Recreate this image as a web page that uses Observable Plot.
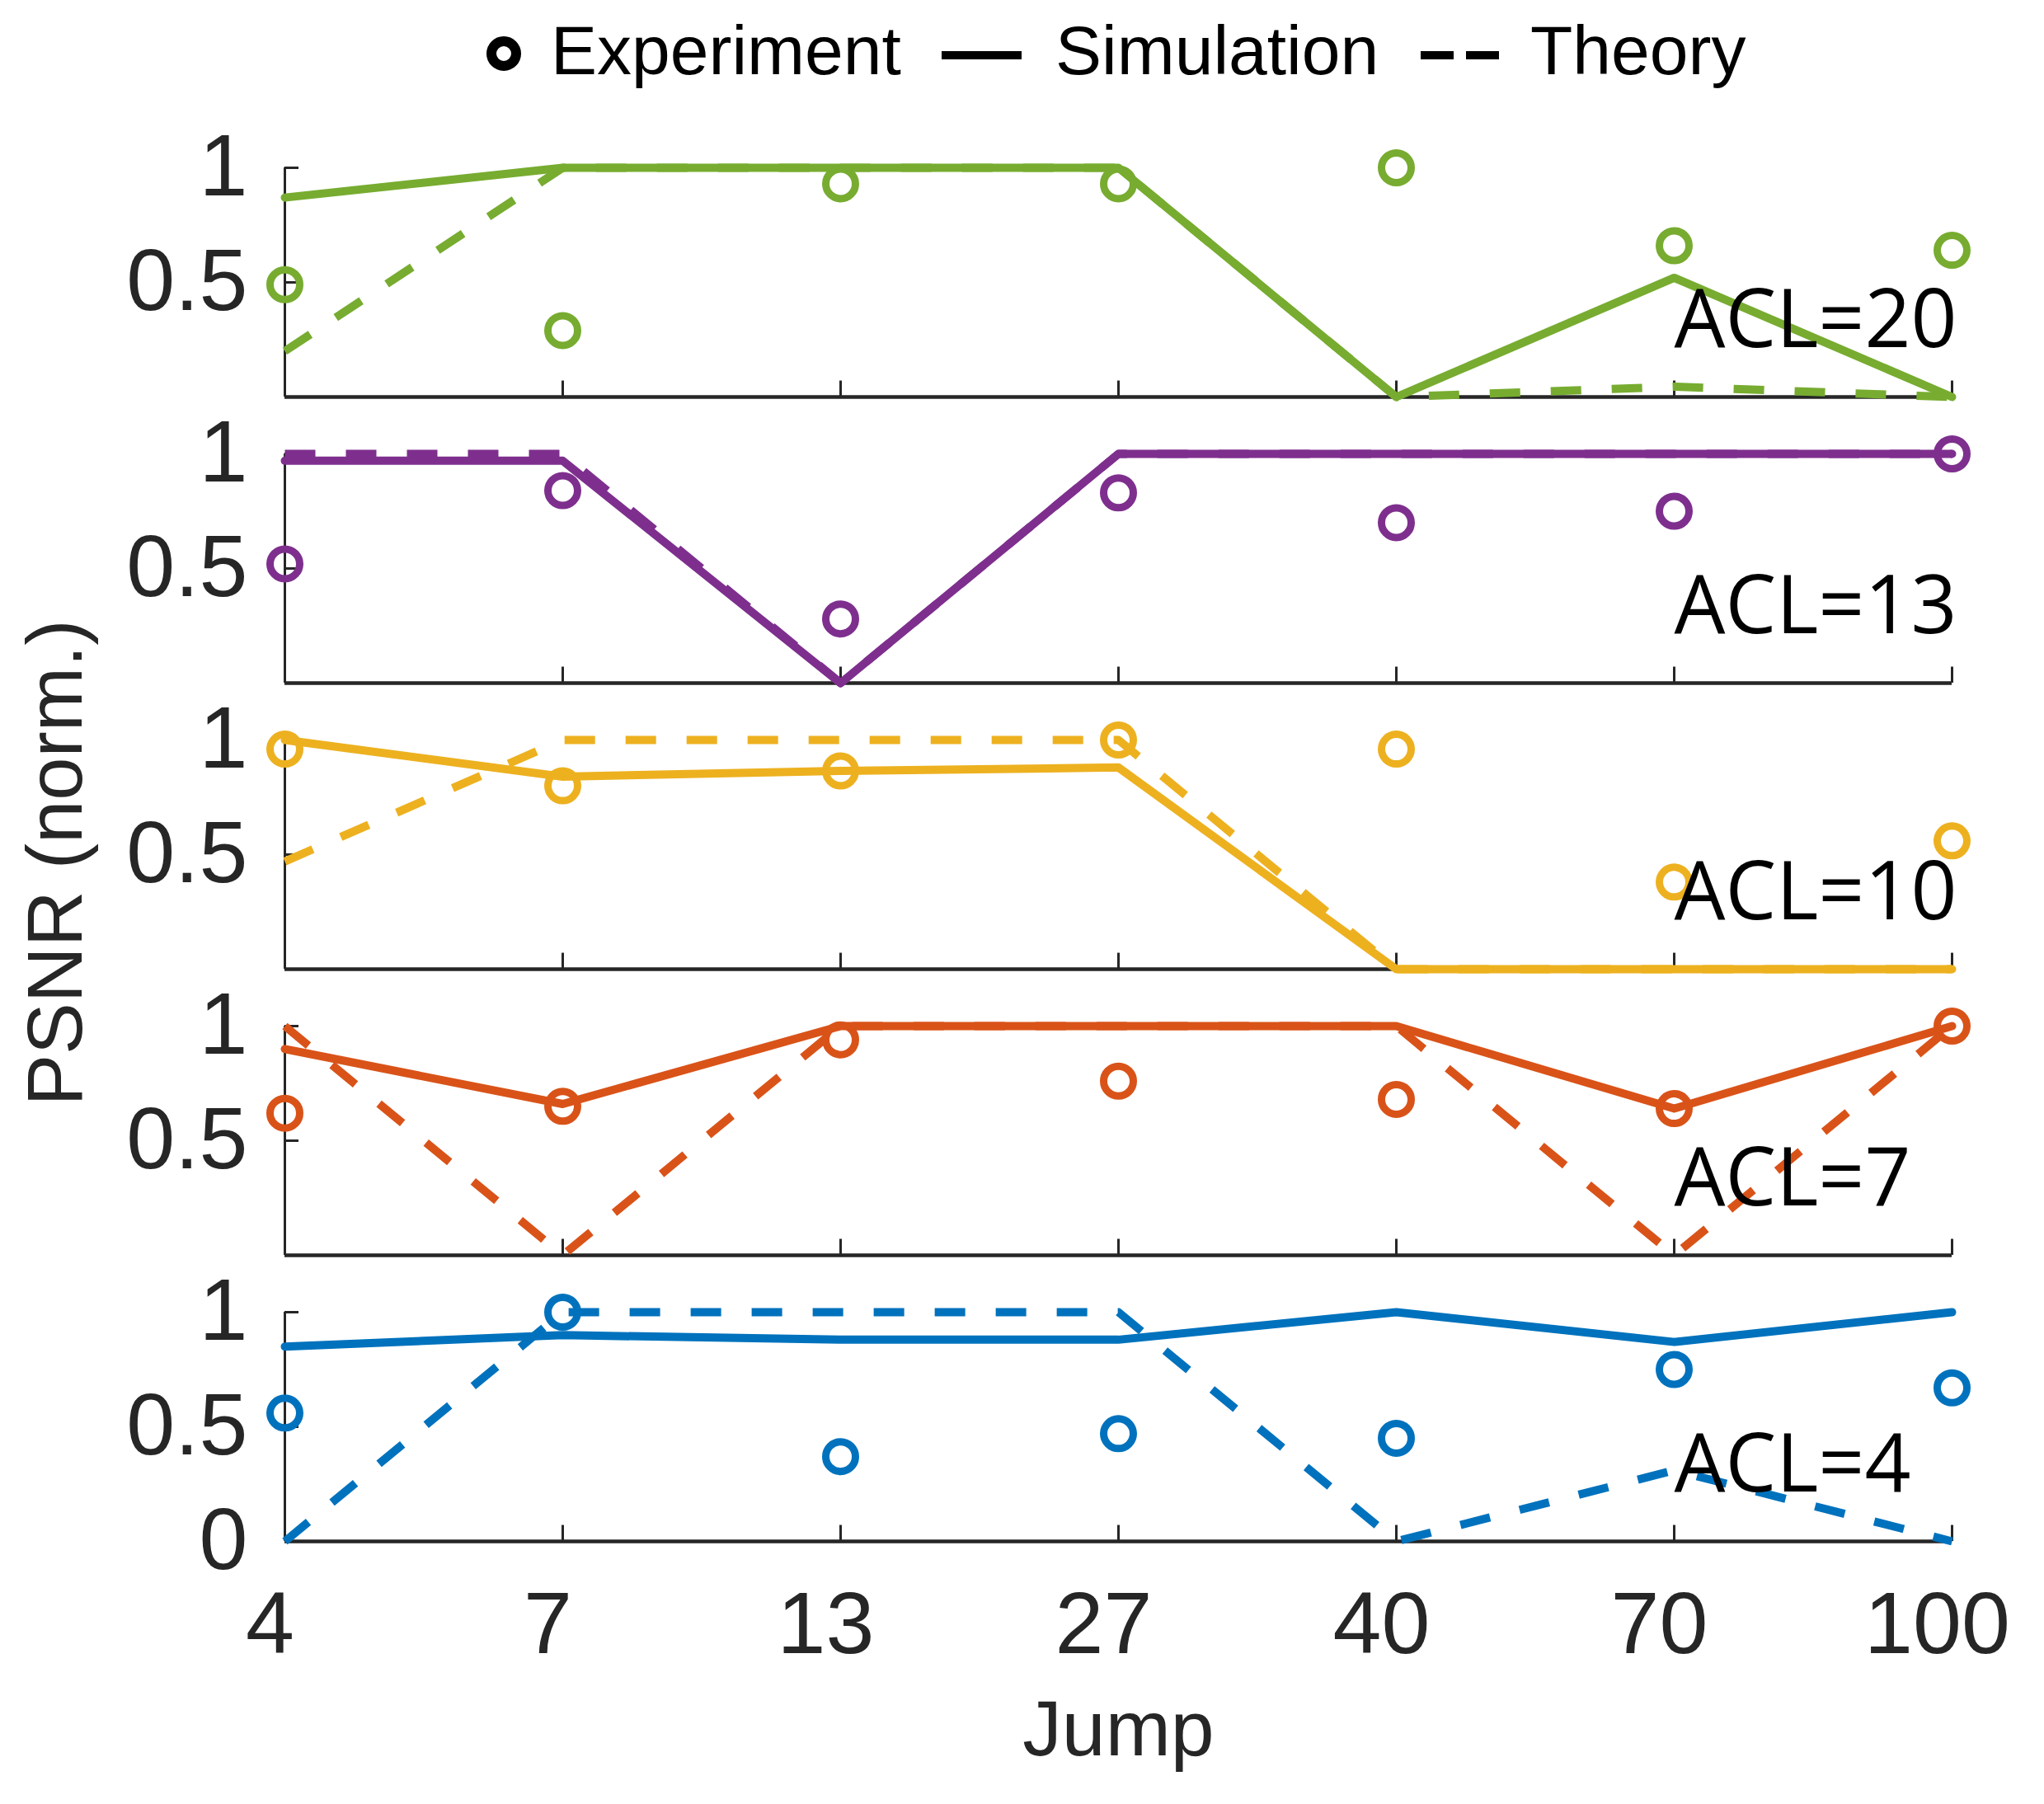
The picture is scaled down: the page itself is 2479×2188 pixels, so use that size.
<!DOCTYPE html>
<html>
<head>
<meta charset="utf-8">
<script src="https://cdn.jsdelivr.net/npm/d3@7"></script>
<script src="https://cdn.jsdelivr.net/npm/@observablehq/plot@0.6"></script>
<style>
html, body { margin: 0; padding: 0; background: #fff; }
#legend, #chart { display: block; width: 2479px; }
#chart svg { display: block; max-width: none; }
</style>
</head>
<body>
<svg id="legend" width="2479" height="120"></svg>
<div id="chart"></div>
<script>
// ---- data ----
const jumps = [4, 7, 13, 27, 40, 70, 100];
const acls = [20, 13, 10, 7, 4];
const colors = ["#77AC30", "#7E2F8E", "#EDB120", "#D95319", "#0072BD"];
const legendLabels = ["Experiment", "Simulation", "Theory"];
const yTicks = [0.5, 1];
const yTicksBottom = [0];

const sim20 = [0.87, 1, 1, 1, 0, 0.52, 0];
const theo20 = [0.2, 1, 1, 1, 0, 0.045, 0];
const exp20 = [0.49, 0.29, 0.93, 0.93, 1, 0.66, 0.64];

const sim13 = [0.97, 0.97, 0, 1, 1, 1, 1];
const theo13 = [1, 1, 0, 1, 1, 1, 1];
const exp13 = [0.52, 0.84, 0.28, 0.83, 0.7, 0.75, 1];

const sim10 = [1, 0.84, 0.865, 0.88, 0, 0, 0];
const theo10 = [0.47, 1, 1, 1, 0, 0, 0];
const exp10 = [0.96, 0.8, 0.865, 1, 0.96, 0.38, 0.56];

const sim7 = [0.9, 0.66, 1, 1, 1, 0.64, 1];
const theo7 = [1, 0, 1, 1, 1, 0, 1];
const exp7 = [0.62, 0.65, 0.94, 0.76, 0.68, 0.64, 1];

const sim4 = [0.85, 0.9, 0.88, 0.88, 1, 0.87, 1];
const theo4 = [0, 1, 1, 1, 0, 0.31, 0];
const exp4 = [0.56, 1, 0.37, 0.47, 0.45, 0.75, 0.67];

// ---- tables ----
function rows(arr, acl) { return jumps.map((j, i) => ({jump: j, v: arr[i], acl})); }
const simRows = [...rows(sim20, 20), ...rows(sim13, 13), ...rows(sim10, 10), ...rows(sim7, 7), ...rows(sim4, 4)];
const theoRows = [...rows(theo20, 20), ...rows(theo13, 13), ...rows(theo10, 10), ...rows(theo7, 7), ...rows(theo4, 4)];
const expRows = [...rows(exp20, 20), ...rows(exp13, 13), ...rows(exp10, 10), ...rows(exp7, 7), ...rows(exp4, 4)];

// ---- legend ----
const lg = d3.select("#legend");
const lfont = "'Liberation Sans', Arial, Helvetica, sans-serif";
lg.append("circle").attr("cx", 611).attr("cy", 65).attr("r", 15).attr("fill", "none").attr("stroke", "#000").attr("stroke-width", 12);
lg.append("text").attr("x", 668).attr("y", 90).attr("font-family", lfont).attr("font-size", 84).attr("fill", "#000").text(legendLabels[0]);
lg.append("line").attr("x1", 1142).attr("x2", 1239).attr("y1", 67).attr("y2", 67).attr("stroke", "#000").attr("stroke-width", 10);
lg.append("text").attr("x", 1280).attr("y", 90).attr("font-family", lfont).attr("font-size", 84).attr("fill", "#000").text(legendLabels[1]);
lg.append("line").attr("x1", 1723).attr("x2", 1818).attr("y1", 67).attr("y2", 67).attr("stroke", "#000").attr("stroke-width", 10).attr("stroke-dasharray", "40,15");
lg.append("text").attr("x", 1856).attr("y", 90).attr("font-family", lfont).attr("font-size", 84).attr("fill", "#000").text(legendLabels[2]);

// ---- chart ----
const axisColor = "#262626";
const tickFont = 106;
const chart = Plot.plot({
  width: 2479,
  height: 2068,
  marginTop: 82,
  marginBottom: 319,
  marginLeft: 345,
  marginRight: 112,
  style: {fontFamily: lfont, color: axisColor, background: "#fff", overflow: "visible"},
  x: {type: "point", domain: jumps, padding: 0},
  y: {domain: [0, 1]},
  fy: {domain: acls, paddingInner: 0.2, paddingOuter: 0, axis: null},
  color: {domain: acls, range: colors},
  marks: [
    Plot.ruleY([0], {stroke: axisColor, strokeWidth: 4.5}),
    Plot.ruleX([jumps[0]], {y1: 0, y2: 1, stroke: axisColor, strokeWidth: 3}),
    Plot.ruleX(jumps, {y1: 0, y2: 0.07, stroke: axisColor, strokeWidth: 3}),
    Plot.ruleY(yTicks, {x1: jumps[0], x2: jumps[0], insetRight: -17, stroke: axisColor, strokeWidth: 3}),
    Plot.axisX({tickSize: 0, tickPadding: 60, fontSize: tickFont, label: null, dx: -18}),
    Plot.axisY(yTicks, {tickSize: 0, tickPadding: 45, fontSize: tickFont, label: null, tickFormat: d => String(d)}),
    Plot.text(yTicksBottom, {fy: () => 4, y: d => d, frameAnchor: "left", dx: -45, textAnchor: "end", lineAnchor: "middle", fontSize: tickFont, fill: axisColor, text: d => String(d)}),
    Plot.lineY(simRows, {x: "jump", y: "v", fy: "acl", stroke: "acl", strokeWidth: 10}),
    Plot.lineY(theoRows, {x: "jump", y: "v", fy: "acl", stroke: "acl", strokeWidth: 10, strokeDasharray: "37,37", strokeLinecap: "butt"}),
    Plot.dot(expRows, {x: "jump", y: "v", fy: "acl", stroke: "acl", r: 18, strokeWidth: 9, fill: "none"}),
    Plot.text(acls, {fy: d => d, x: () => 70, y: () => 0.33, text: d => `ACL=${d}`, textAnchor: "start", lineAnchor: "middle", fontFamily: "'Open Sans', 'Noto Sans', sans-serif", fontSize: 98, fill: "#000"}),
    Plot.text(["PSNR (norm.)"], {fy: () => 10, frameAnchor: "left", textAnchor: "middle", lineAnchor: "middle", rotate: -90, dx: -277, dy: 10, fontSize: 94, fill: axisColor, text: d => d}),
    Plot.text(["Jump"], {fy: () => 4, frameAnchor: "bottom", textAnchor: "middle", lineAnchor: "middle", dy: 229, fontSize: 95, fill: axisColor, text: d => d})
  ]
});
document.getElementById("chart").appendChild(chart);
</script>
</body>
</html>
